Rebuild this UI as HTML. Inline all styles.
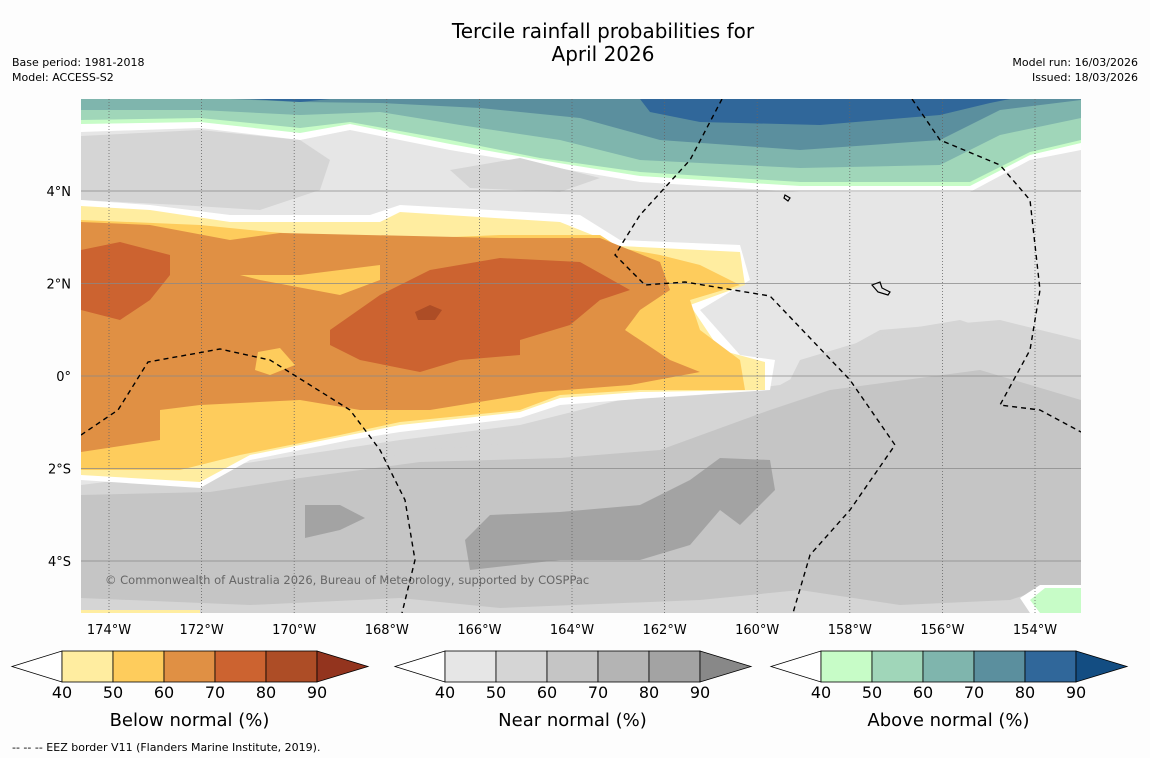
<!DOCTYPE html>
<html><head><meta charset="utf-8"><style>
body{margin:0;background:#fdfdfd;font-family:"DejaVu Sans","Liberation Sans",sans-serif;}
svg{display:block}
</style></head><body>
<svg width="1150" height="758" viewBox="0 0 1150 758" xmlns="http://www.w3.org/2000/svg" font-family="DejaVu Sans, Liberation Sans, sans-serif">
<rect width="1150" height="758" fill="#fdfdfd"/>
<text x="603" y="38" font-size="20" text-anchor="middle">Tercile rainfall probabilities for</text>
<text x="603" y="61" font-size="20" text-anchor="middle">April 2026</text>
<text x="12" y="66" font-size="11">Base period: 1981-2018</text>
<text x="12" y="81" font-size="11">Model: ACCESS-S2</text>
<text x="1138" y="66" font-size="11" text-anchor="end">Model run: 16/03/2026</text>
<text x="1138" y="81" font-size="11" text-anchor="end">Issued: 18/03/2026</text>
<defs><clipPath id="mc"><rect x="81" y="99" width="1000" height="514"/></clipPath></defs>
<g clip-path="url(#mc)">
<rect x="81" y="99" width="1000" height="514" fill="#e6e6e6"/>
<path d="M81 99H1081V150L1030 160L970 192L800 192L640 182L540 165L450 150L350 130L300 140L200 128L81 132Z" fill="#fff"/>
<path d="M81 99H1081V143L1030 155L970 186L800 186L640 176L540 160L450 144L350 124L300 133L200 122L81 124Z" fill="#c7fcc7"/>
<path d="M81 99H1081V140L1030 152L970 182L800 182L640 172L540 158L450 140L350 122L300 128L200 118L81 120Z" fill="#a0d6b9"/>
<path d="M81 99H1081V118L1000 135L940 165L800 168L640 160L560 140L460 125L380 112L300 115L200 110L81 110Z" fill="#7fb5ad"/>
<path d="M230 99H1081V100L1000 110L940 140L800 150L660 140L580 118L480 108L380 103L300 102Z" fill="#5b8f9e"/>
<path d="M640 99H1010L990 103L940 115L820 125L700 122L650 112Z" fill="#30679a"/>
<path d="M250 99H330L300 102Z" fill="#30679a"/>
<path d="M81 136L200 130L300 140L330 160L320 190L260 210L180 205L81 200Z" fill="#d5d5d5"/>
<path d="M450 170L520 158L600 178L560 192L470 188Z" fill="#d5d5d5"/>
<path d="M81 485L200 470L300 455L400 440L520 425L620 400L700 395L780 385L880 330L1000 320L1081 340V613H81Z" fill="#d5d5d5"/>
<path d="M81 490L220 488L320 470L420 450L560 440L680 425L780 400L800 360L900 330L960 320L1081 360V613H81Z" fill="#d5d5d5"/>
<path d="M81 495L210 492L300 478L420 462L560 458L660 450L770 410L830 390L980 370L1081 400V600L1040 590L1010 600L900 605L800 590L700 600L500 608L400 598L250 605L81 598Z" fill="#c5c5c5"/>
<path d="M465 540L490 515L560 512L640 505L690 480L720 458L770 460L775 490L740 525L720 510L690 545L640 560L560 560L470 570Z" fill="#a3a3a3"/>
<path d="M305 505L340 505L365 518L340 530L305 538Z" fill="#a3a3a3"/>
<path d="M1020 598L1040 585H1081V613H1030Z" fill="#fff"/>
<path d="M1030 600L1045 588H1081V613H1040Z" fill="#c7fcc7"/>
<path d="M81 610H200V613H81Z" fill="#ffeda0"/>
<path d="M81 200L150 205L230 215L370 215L400 205L580 215L620 240L740 245L750 280L700 310L740 355L775 360L770 390L650 398L560 405L520 418L400 432L350 440L250 460L200 488L81 480Z" fill="#fff"/>
<path d="M81 206L150 210L230 222L380 222L400 212L560 222L620 246L740 252L745 285L690 305L720 350L765 362L765 390L640 392L560 398L520 412L400 425L350 435L250 455L200 482L81 475Z" fill="#ffeda0"/>
<path d="M81 220L200 225L270 232L380 240L500 235L600 235L620 248L660 255L700 265L740 285L690 300L700 330L740 360L745 390L640 390L560 395L520 410L400 422L340 435L240 455L180 470L81 470Z" fill="#fecc5c"/>
<path d="M81 222L150 225L230 240L280 233L500 238L600 238L660 262L670 290L640 310L625 330L670 360L700 372L630 385L540 392L430 410L360 410L300 400L200 405L160 410L160 440L81 452Z" fill="#e09044"/>
<path d="M240 275L300 275L380 265L380 280L340 295L260 280Z" fill="#fecc5c"/>
<path d="M258 352L280 348L295 365L270 375L255 370Z" fill="#fecc5c"/>
<path d="M81 250L120 242L170 255L170 275L150 300L120 320L81 310Z" fill="#cc6330"/>
<path d="M330 330L380 295L430 270L500 258L580 262L630 290L600 300L570 325L520 340L520 355L460 360L420 372L360 360L330 345Z" fill="#cc6330"/>
<path d="M415 312L430 305L442 310L435 320L418 320Z" fill="#ad4d26"/>
<g id="grid" stroke="#666" stroke-width="0.8" fill="none"></g>
<g fill="none" stroke="#000" stroke-width="1.4" stroke-dasharray="5,4">
<path d="M81 435L118 410L148 362L220 349L270 360L350 410L380 450L405 500L415 560L402 613"/>
<path d="M722 99L690 160L640 215L615 255L645 285L685 282L770 296L850 380L895 445L850 510L810 555L793 613"/>
<path d="M912 99L940 140L1000 165L1030 200L1040 290L1030 350L1000 405L1040 410L1081 432"/>
</g>
<path d="M785 195l5 3l-2 3l-4-3z M872 285l8-3l2 6l8 4l-2 3l-10-3z" fill="none" stroke="#000" stroke-width="1.2"/>
<text x="105" y="584" font-size="11.5" fill="#666">© Commonwealth of Australia 2026, Bureau of Meteorology, supported by COSPPac</text>
</g>
<g id="ticks" font-size="13"></g>
<g id="cbars"></g>
<text x="12" y="751" font-size="11">--  --  -- EEZ border V11 (Flanders Marine Institute, 2019).</text>
<script>
const lonTicks=[174,172,170,168,166,164,162,160,158,156,154];
const latTicks=[4,2,0,-2,-4];
const cbLabels=[40,50,60,70,80,90];
const cbTitles=["Below normal (%)","Near normal (%)","Above normal (%)"];
const cbColors=[["#ffeda0","#fecc5c","#e09044","#cc6330","#ad4d26","#93341e"],["#e6e6e6","#d5d5d5","#c5c5c5","#b4b4b4","#a3a3a3","#888888"],["#c7fcc7","#a0d6b9","#7fb5ad","#5b8f9e","#30679a","#134d82"]];
const NS="http://www.w3.org/2000/svg";
const xOf=l=>109+(174-l)*46.3, yOf=a=>376-a*46.25;
const grid=document.getElementById('grid'), tk=document.getElementById('ticks');
function mk(t,a,p){const e=document.createElementNS(NS,t);for(const k in a)e.setAttribute(k,a[k]);(p||grid).appendChild(e);return e;}
lonTicks.forEach(l=>{const x=xOf(l);
 const ln=mk('line',{x1:x,x2:x,y1:99,y2:613,'stroke-dasharray':'1,2'});
 
 
 const t=mk('text',{x:x,y:634,'text-anchor':'middle'},tk);t.textContent=l+'°W';
 
 });
latTicks.forEach(a=>{const y=yOf(a);
 const ln=mk('line',{x1:81,x2:1081,y1:y,y2:y,stroke:'#888'});
 
 
 const t=mk('text',{x:71,y:y+5,'text-anchor':'end'},tk);t.textContent=a>0?a+'°N':a<0?(-a)+'°S':'0°';
 
 });
const cb=document.getElementById('cbars');const starts=[12,395,771];
starts.forEach((s,i)=>{const g=mk('g',{},cb);
 
 
 const x0=s+50,w=51;
 mk('polygon',{points:`${s},666.5 ${x0},651 ${x0},682`,fill:'#fff',stroke:'#000','stroke-width':0.8},g);
 for(let j=0;j<5;j++)mk('rect',{x:x0+j*w,y:651,width:w,height:31,fill:cbColors[i][j],stroke:'#000','stroke-width':0.8},g);
 const e=x0+5*w;
 mk('polygon',{points:`${e},651 ${e+51},666.5 ${e},682`,fill:cbColors[i][5],stroke:'#000','stroke-width':0.8},g);
 cbLabels.forEach((v,j)=>{const t=mk('text',{x:x0+j*w,y:698,'font-size':16,'text-anchor':'middle'},g);t.textContent=v;
  
  });
 const t=mk('text',{x:x0+2.5*w,y:726,'font-size':18,'text-anchor':'middle'},g);t.textContent=cbTitles[i];
 
 });
</script>
</svg>
</body></html>
